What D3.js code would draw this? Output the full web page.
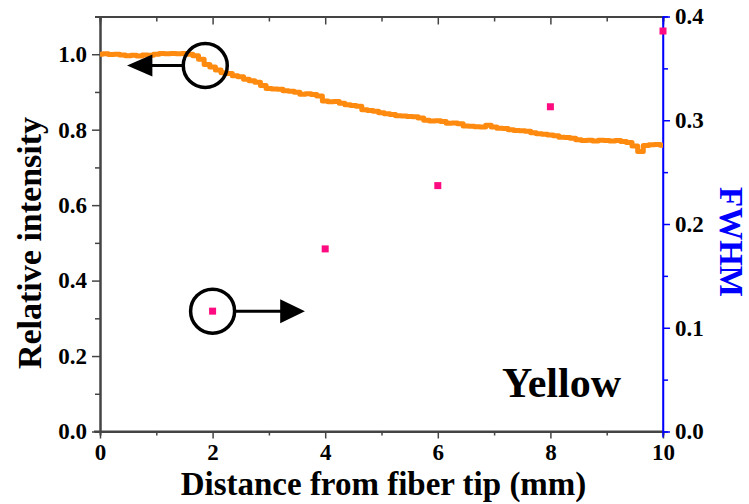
<!DOCTYPE html>
<html>
<head>
<meta charset="utf-8">
<script src="https://cdn.jsdelivr.net/npm/d3@7"></script>
<style>
  body { margin: 0; background: #fff; }
  svg text { font-family: "Liberation Serif", "Times New Roman", serif !important; font-weight: bold; }
</style>
</head>
<body>
<div id="chart"></div>
<script>
// intensity curve (left axis)
var distance = [0.0,0.1,0.2,0.3,0.4,0.5,0.6,0.7,0.8,0.9,
    1.0,1.1,1.2,1.3,1.4,1.5,1.6,1.7,1.8,1.9,
    2.0,2.1,2.2,2.3,2.4,2.5,2.6,2.7,2.8,2.9,
    3.0,3.1,3.2,3.3,3.4,3.5,3.6,3.7,3.8,3.9,
    4.0,4.1,4.2,4.3,4.4,4.5,4.6,4.7,4.8,4.9,
    5.0,5.1,5.2,5.3,5.4,5.5,5.6,5.7,5.8,5.9,
    6.0,6.1,6.2,6.3,6.4,6.5,6.6,6.7,6.8,6.9,
    7.0,7.1,7.2,7.3,7.4,7.5,7.6,7.7,7.8,7.9,
    8.0,8.1,8.2,8.3,8.4,8.5,8.6,8.7,8.8,8.9,
    9.0,9.1,9.2,9.3,9.4,9.5,9.6,9.7,9.8,9.9,10.0];
var intensity = [1.000,1.001,0.999,1.000,0.998,0.996,0.997,0.995,0.998,0.997,
    1.000,1.002,1.001,1.002,1.001,1.002,1.000,0.996,0.987,0.973,
    0.966,0.958,0.951,0.949,0.943,0.940,0.934,0.930,0.926,0.917,
    0.909,0.908,0.907,0.903,0.902,0.899,0.894,0.895,0.893,0.889,
    0.876,0.874,0.875,0.870,0.866,0.864,0.862,0.853,0.851,0.849,
    0.845,0.842,0.840,0.837,0.836,0.835,0.834,0.831,0.825,0.823,
    0.824,0.822,0.817,0.818,0.816,0.810,0.809,0.808,0.807,0.812,
    0.807,0.804,0.803,0.800,0.798,0.797,0.796,0.792,0.789,0.788,
    0.786,0.784,0.780,0.779,0.777,0.773,0.771,0.772,0.770,0.772,
    0.771,0.770,0.771,0.769,0.766,0.757,0.742,0.758,0.760,0.761,0.759];

// FWHM points (right axis)
var fwhm_x = [2, 4, 6, 8, 10];
var fwhm = [0.116, 0.176, 0.237, 0.313, 0.386];

var x_ticks = [0, 2, 4, 6, 8, 10];
var x_minor = [1, 3, 5, 7, 9];
var left_ticks = [0.0, 0.2, 0.4, 0.6, 0.8, 1.0];
var left_minor = [0.1, 0.3, 0.5, 0.7, 0.9];
var right_ticks = [0.0, 0.1, 0.2, 0.3, 0.4];
var right_minor = [0.05, 0.15, 0.25, 0.35];

var width = 749,
    height = 504;
var pL = 100, pR = 663, pT = 16.5, pB = 431.5;

var svg = d3.select("#chart").append("svg")
    .attr("width", width)
    .attr("height", height);

var x = d3.scaleLinear().domain([0, 10]).range([pL, pR]);
var yL = d3.scaleLinear().domain([0, 1.1]).range([pB, pT]);
var yR = d3.scaleLinear().domain([0, 0.4]).range([pB, pT]);

var axisGray = "#444";
var blue = "#0000ff";

// bottom axis
var gb = svg.append("g").attr("transform", "translate(0," + pB + ")");
gb.call(d3.axisBottom(x).tickValues(x_ticks).tickSize(7).tickSizeOuter(0).tickFormat(d3.format("d")));
gb.append("g").call(d3.axisBottom(x).tickValues(x_minor).tickSize(4).tickFormat(""));
gb.selectAll(".domain").attr("stroke", axisGray).attr("stroke-width", 2);
gb.selectAll("line").attr("stroke", axisGray).attr("stroke-width", 1.5);
gb.selectAll("text").attr("fill", "#000").style("font-size", "23px").attr("y", 12);
gb.select(".domain").attr("d", "M" + (pL - 6) + ",0H" + pR);

// top axis, ticks inward
var gt = svg.append("g").attr("transform", "translate(0," + pT + ")");
gt.call(d3.axisTop(x).tickValues(x_ticks).tickSize(-8).tickSizeOuter(0).tickFormat(""));
gt.append("g").call(d3.axisTop(x).tickValues(x_minor).tickSize(-5).tickFormat(""));
gt.selectAll(".domain").attr("stroke", axisGray).attr("stroke-width", 2);
gt.selectAll("line").attr("stroke", axisGray).attr("stroke-width", 1.5);

// left axis
var gl = svg.append("g").attr("transform", "translate(" + pL + ",0)");
gl.call(d3.axisLeft(yL).tickValues(left_ticks).tickSize(8).tickSizeOuter(0).tickFormat(d3.format(".1f")));
gl.append("g").call(d3.axisLeft(yL).tickValues(left_minor).tickSize(5).tickFormat(""));
gl.selectAll(".domain").attr("stroke", axisGray).attr("stroke-width", 2);
gl.selectAll("line").attr("stroke", axisGray).attr("stroke-width", 1.5);
gl.selectAll("text").attr("fill", "#000").style("font-size", "23px").attr("x", -13);

// right axis (blue)
var gr = svg.append("g").attr("transform", "translate(" + pR + ",0)");
gr.call(d3.axisRight(yR).tickValues(right_ticks).tickSize(7).tickSizeOuter(0).tickFormat(d3.format(".1f")));
gr.append("g").call(d3.axisRight(yR).tickValues(right_minor).tickSize(5).tickFormat(""));
gr.selectAll(".domain").attr("stroke", blue).attr("stroke-width", 1.5);
gr.select(".domain").attr("d", "M0," + pT + "V" + (pB + 6));
gr.selectAll("line").attr("stroke", blue).attr("stroke-width", 1.5);
gr.selectAll("text").attr("fill", "#000").style("font-size", "23px").attr("x", 12);

// axis titles
svg.append("text")
    .attr("x", (pL + pR) / 2 + 2)
    .attr("y", 495)
    .attr("text-anchor", "middle")
    .style("font-size", "33px")
    .text("Distance from fiber tip (mm)");

svg.append("text")
    .attr("transform", "translate(41,243) rotate(-90)")
    .attr("text-anchor", "middle")
    .style("font-size", "34px")
    .text("Relative intensity");

svg.append("text")
    .attr("transform", "translate(720,242) rotate(90)")
    .attr("text-anchor", "middle")
    .attr("fill", blue)
    .style("font-size", "33px")
    .text("FWHM");

// intensity line
var line = d3.line()
    .x(function(d, i) { return x(distance[i]); })
    .y(function(d) { return yL(d); })
    .curve(d3.curveStep);

svg.append("path")
    .datum(intensity)
    .attr("d", line)
    .attr("fill", "none")
    .attr("stroke", "#ff8a10")
    .attr("stroke-width", 5)
    .attr("stroke-linejoin", "round");

// fwhm squares
svg.selectAll(".sq")
    .data(fwhm)
    .enter().append("rect")
    .attr("class", "sq")
    .attr("x", function(d, i) { return x(fwhm_x[i]) - 3.5; })
    .attr("y", function(d) { return yR(d) - 3.5; })
    .attr("width", 7)
    .attr("height", 7)
    .attr("fill", "#ff0a80");

// annotations: circles + arrows
var c1x = x(1.87), c1y = yL(0.97);
svg.append("circle").attr("cx", c1x).attr("cy", c1y).attr("r", 22)
    .attr("fill", "none").attr("stroke", "#000").attr("stroke-width", 3.5);
svg.append("line").attr("x1", c1x - 22).attr("x2", x(0.92)).attr("y1", c1y).attr("y2", c1y)
    .attr("stroke", "#000").attr("stroke-width", 3);
svg.append("path")
    .attr("d", "M" + x(0.48) + "," + c1y + "L" + x(0.93) + "," + (c1y - 11) + "L" + x(0.93) + "," + (c1y + 11) + "Z")
    .attr("fill", "#000");

var c2x = x(fwhm_x[0]), c2y = yR(fwhm[0]);
svg.append("circle").attr("cx", c2x).attr("cy", c2y).attr("r", 22)
    .attr("fill", "none").attr("stroke", "#000").attr("stroke-width", 3.5);
svg.append("line").attr("x1", c2x + 22).attr("x2", x(3.22)).attr("y1", c2y).attr("y2", c2y)
    .attr("stroke", "#000").attr("stroke-width", 3);
svg.append("path")
    .attr("d", "M" + x(3.64) + "," + c2y + "L" + x(3.2) + "," + (c2y - 12) + "L" + x(3.2) + "," + (c2y + 12) + "Z")
    .attr("fill", "#000");

// label
svg.append("text")
    .attr("x", 502)
    .attr("y", 397)
    .style("font-size", "42px")
    .text("Yellow");
</script>
</body>
</html>
